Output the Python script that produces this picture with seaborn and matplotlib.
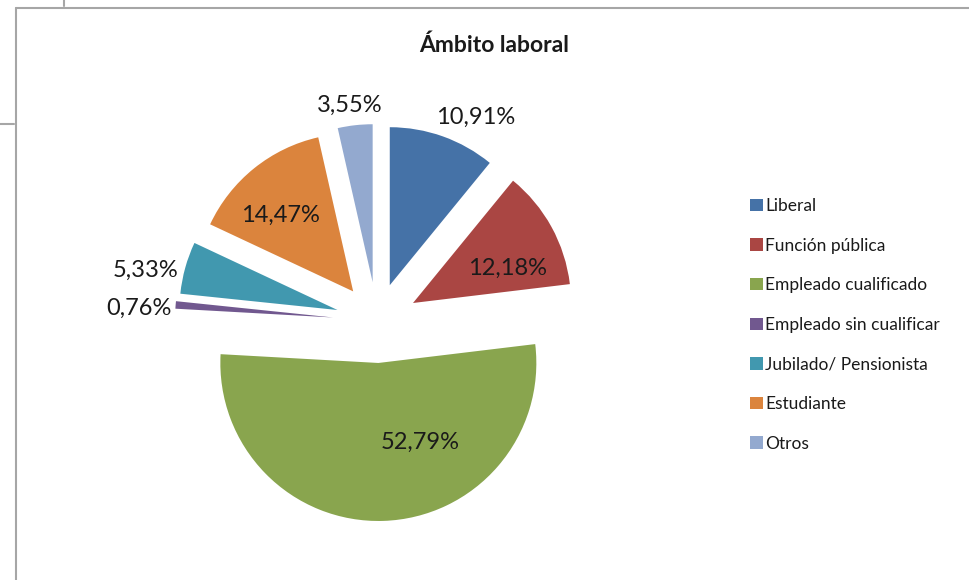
import matplotlib
matplotlib.use("Agg")
import matplotlib.pyplot as plt
import seaborn as sns
from matplotlib.lines import Line2D
import math

# ---- data ----
categories = ["Liberal", "Función pública", "Empleado cualificado",
              "Empleado sin cualificar", "Jubilado/ Pensionista",
              "Estudiante", "Otros"]
values = [10.91, 12.18, 52.79, 0.76, 5.33, 14.47, 3.55]
value_labels = ["10,91%", "12,18%", "52,79%", "0,76%", "5,33%", "14,47%", "3,55%"]
title = "Ámbito laboral"

# ---- style ----
colors = ["#4572A7", "#AA4643", "#89A54E", "#71588F", "#4198AF", "#DB843D", "#93A9CF"]
explode = [38, 0, 42, 44, 41, 38, 39]          # px offsets along mid angle
extra_shift = {1: (36, 18)}                     # extra offset for one slice (px)
label_dist = [1.19, 0.635, 0.57, 1.23, 1.24, 0.667, 1.13]
label_ang = [7.4, 8.4, -26, -1.9, -3.7, -5, -1]  # clockwise degrees

sns.set_theme(style="white")
plt.rcParams["font.family"] = ["Lato", "DejaVu Sans"]
palette = sns.color_palette(colors)

W, H = 969, 580
fig = plt.figure(figsize=(W / 100, H / 100), dpi=100)
fig.patch.set_facecolor("white")
ax = fig.add_axes([0, 0, 1, 1])

R = 158
C = (377, H - 321)
wedges, _ = ax.pie(values, colors=palette, startangle=90, counterclock=False,
                   explode=explode, radius=R, center=C,
                   wedgeprops=dict(linewidth=0))
for i, (dx, dy) in extra_shift.items():
    cx, cy = wedges[i].center
    wedges[i].set_center((cx + dx, cy + dy))

for i, w in enumerate(wedges):
    th = math.radians((w.theta1 + w.theta2) / 2 - label_ang[i])
    cx, cy = w.center
    x = cx + label_dist[i] * R * math.cos(th)
    y = cy + label_dist[i] * R * math.sin(th)
    ax.text(x, y, value_labels[i], ha="center", va="center",
            fontsize=17, color="#1a1a1a")

ax.set_xlim(0, W)
ax.set_ylim(0, H)
ax.set_aspect("equal")
ax.axis("off")

fig.text(494 / W, 1 - 45 / H, title, ha="center", va="center",
         fontsize=16.5, fontweight="bold", color="#1a1a1a")

leg = ax.legend(wedges, categories, loc="upper left",
                bbox_to_anchor=(750 / W, 1 - 198 / H), bbox_transform=fig.transFigure,
                frameon=False, fontsize=12.5, handlelength=0.72, handleheight=0.72,
                handletextpad=0.15, labelspacing=1.36, borderpad=0, borderaxespad=0)
for t in leg.get_texts():
    t.set_color("#1a1a1a")

# sheet / chart-area border lines
gc = "#a6a6a6"
def px_line(x0, y0, x1, y1):
    fig.add_artist(Line2D([x0 / W, x1 / W], [1 - y0 / H, 1 - y1 / H],
                          transform=fig.transFigure, color=gc, linewidth=1.5))
px_line(16, 8, W, 8)
px_line(16, 8, 16, H)
px_line(64, 0, 64, 6)
px_line(0, 124, 14, 124)

fig.savefig("out.png", dpi=100, facecolor="white")
